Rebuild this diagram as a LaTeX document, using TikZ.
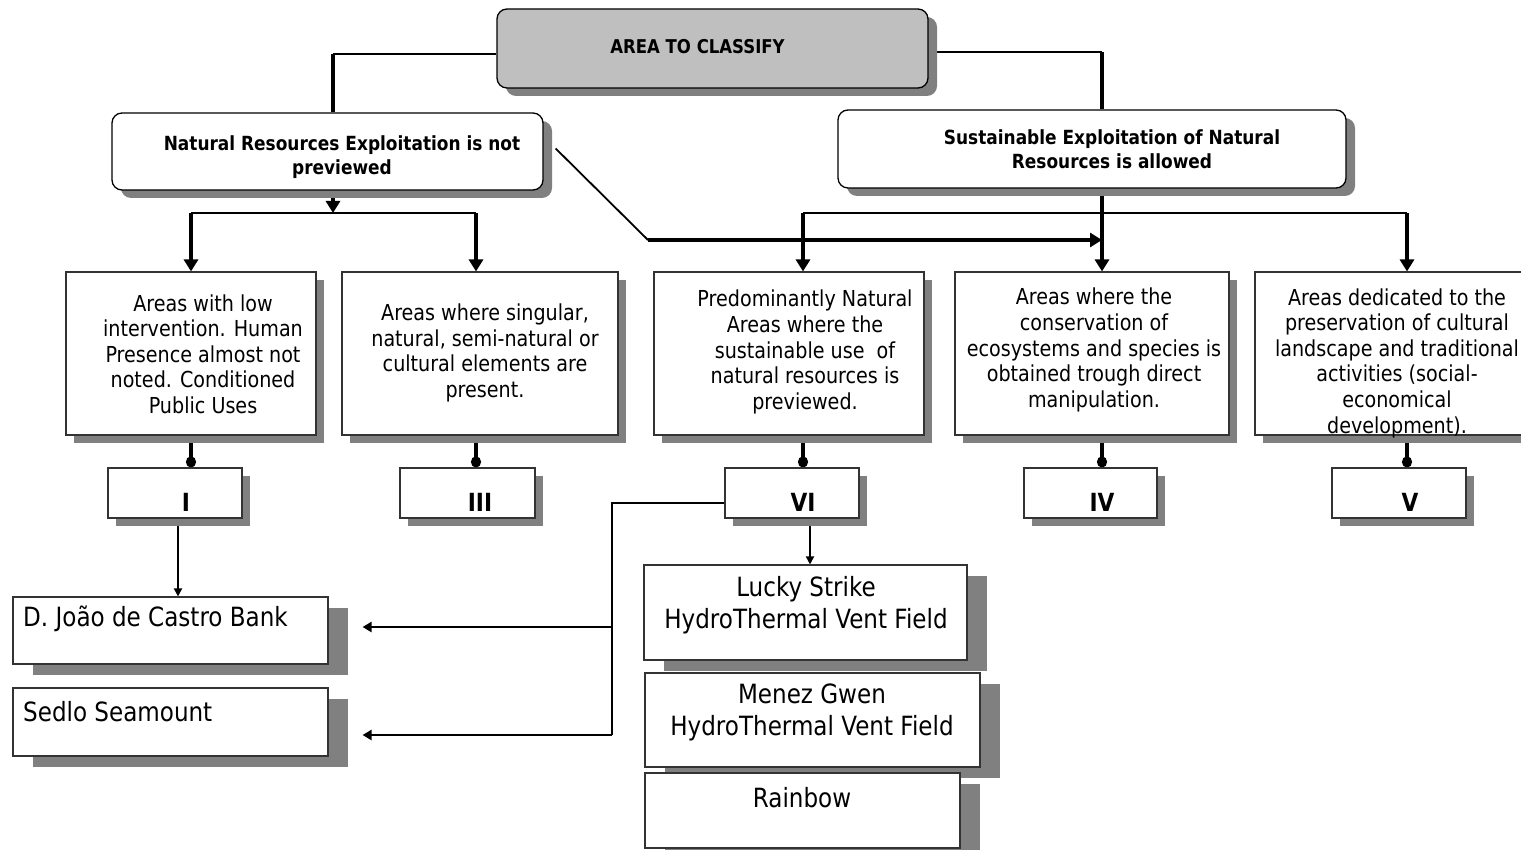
\documentclass[tikz,border=0pt]{standalone}
\usepackage{fontspec}
\setmainfont[FakeStretch=0.87]{DejaVu Sans}
\usetikzlibrary{arrows.meta,backgrounds,positioning,shadows}
\tikzset{
chart/.style={x=1pt,y=-1pt,>={Triangle[length=12pt,width=14pt]}},
shade box/.style={drop shadow={shadow xshift=#1,shadow yshift=-8pt,
    fill=black!50,opacity=1}},
shade box/.default={8pt},
choice/.style={draw=black,line width=1.3pt,rounded corners=10pt,fill=white,
    shade box=9pt},
area/.style={draw=black!80,line width=1.1pt,fill=white,shade box,
    minimum height=163},
category/.style={draw=black!80,line width=1.1pt,fill=white,shade box,
    minimum width=134,minimum height=50},
site/.style={draw=black!80,line width=1.1pt,fill=white,
    drop shadow={shadow xshift=20pt,shadow yshift=-11pt,fill=black!50,opacity=1}},
choice text/.style={font=\bfseries\fontsize{19.5}{24}\selectfont,
    align=center,inner sep=0pt},
area text/.style={font=\fontsize{22}{25.6}\selectfont,align=center,inner sep=0pt},
category text/.style={font=\bfseries\fontsize{25}{28}\selectfont,inner sep=0pt},
site text/.style={font=\fontsize{26.5}{32}\selectfont,align=center,inner sep=0pt},
link/.style={line width=3.4pt},
bar/.style={line width=2.4pt},
thin link/.style={line width=1.8pt,-{Triangle[length=8pt,width=8pt]}},
side link/.style={line width=2.8pt,-{Triangle[length=9pt,width=10pt]}},
ball/.style={line width=3.4pt,-{Circle[length=11pt,width=10pt]}},
}

\begin{document}
\begin{tikzpicture}[chart]
    \useasboundingbox (0,0) rectangle (1521,850);

    % root and the two options
    \node[choice,fill=black!25,minimum width=431,minimum height=79] (top) at (712.5,48.5) {};
    \node[choice text,font=\bfseries\fontsize{19}{23}\selectfont] (top text) at (697.5,47) {AREA TO CLASSIFY};
    \node[choice,minimum width=431,minimum height=77] (natural) at (327.5,151.5) {};
    \node[choice text] (natural text) at (342,157) {Natural Resources Exploitation is not\\previewed};
    \node[choice,minimum width=508,minimum height=78] (sustain) at (1092,149) {};
    \node[choice text] (sustain text) at (1112,149) {Sustainable Exploitation of Natural\\Resources is allowed};

    % area descriptions
    \node[area,minimum width=250] (a1) at (191,353.5) {};
    \node[area text] (a1 text) at (203,354) {Areas with low\\intervention. Human\\Presence almost not\\noted. Conditioned\\Public Uses};
    \node[area,minimum width=276] (a3) at (480,353.5) {};
    \node[area text] (a3 text) at (485,353) {Areas where singular,\\natural, semi-natural or\\cultural elements are\\present.};
    \node[area,minimum width=270] (a6) at (789,353.5) {};
    \node[area text] (a6 text) at (805,352) {Predominantly Natural\\Areas where the\\sustainable use\ \ of\\natural resources is\\previewed.};
    \node[area,minimum width=274] (a4) at (1092,353.5) {};
    \node[area text] (a4 text) at (1094,350) {Areas where the\\conservation of\\ecosystems and species is\\obtained trough direct\\manipulation.};
    \node[area,minimum width=276] (a5) at (1393,353.5) {};
    \node[area text] (a5 text) at (1397,363) {Areas dedicated to the\\preservation of cultural\\landscape and traditional\\activities (social-\\economical\\development).};

    % categories
    \node[category] (I) at (175,493) {};
    \node[category text] (I text) at (186,502) {I};
    \node[category,minimum width=135] (III) at (467.5,493) {};
    \node[category text] (III text) at (480,502) {III};
    \node[category] (VI) at (792,493) {};
    \node[category text] (VI text) at (803,502) {VI};
    \node[category,minimum width=133] (IV) at (1090.5,493) {};
    \node[category text] (IV text) at (1102,502) {IV};
    \node[category] (V) at (1399,493) {};
    \node[category text] (V text) at (1410,502) {V};

    % sites
    \node[site,minimum width=315,minimum height=67] (jcb) at (170.5,630.5) {};
    \node[site text,anchor=west] (jcb text) at (23,619) {D. João de Castro Bank};
    \node[site,minimum width=315,minimum height=68] (sedlo) at (170.5,722) {};
    \node[site text,anchor=west] (sedlo text) at (23,712) {Sedlo Seamount};
    \node[site,minimum width=323,minimum height=95] (lucky) at (805.5,612.5) {};
    \node[site text] (lucky text) at (806,605) {Lucky Strike\\HydroThermal Vent Field};
    \node[site,minimum width=335,minimum height=94] (menez) at (812.5,720) {};
    \node[site text] (menez text) at (812,712) {Menez Gwen\\HydroThermal Vent Field};
    \node[site,minimum width=315,minimum height=75] (rainbow) at (802.5,810.5) {};
    \node[site text] (rainbow text) at (802,798) {Rainbow};

    \coordinate (tl) at (333,54);
    \coordinate (tr) at (1102,52);
    \coordinate (nsplit) at (333,213);
    \coordinate (sjoin) at (1102,213);
    \coordinate (kink) at (648,240);
    \coordinate (vsplit) at (612,503);
    \coordinate (d1) at (a1.north);
    \coordinate (d3) at ([xshift=-4]a3.north);
    \coordinate (d6) at ([xshift=14]a6.north);
    \coordinate (d4) at ([xshift=10]a4.north);
    \coordinate (d5) at ([xshift=14]a5.north);
    \coordinate (i down) at ([xshift=3]I.south);
    \coordinate (vi out) at ([yshift=-10]VI.west);
    \coordinate (vi down) at ([xshift=18]VI.south);
    \coordinate (jcb in) at ([xshift=34,yshift=3.5]jcb.east);
    \coordinate (sedlo in) at ([xshift=34,yshift=-13]sedlo.east);

    \begin{pgfonlayer}{background}
    \draw[bar] (top.west |- tl) -- (tl);
    \draw[link] (tl) -- (tl |- natural.north);
    \draw[bar] (top.east |- tr) -- (tr);
    \draw[link] (tr) -- (tr |- sustain.north);

    \draw[link,->] (natural.south -| nsplit) -- (nsplit);
    \draw[bar] (d1 |- nsplit) -- (d3 |- nsplit);
    \draw[link,->] (d1 |- nsplit) -- (d1);
    \draw[link,->] (d3 |- nsplit) -- (d3);

    \draw[link,->] (sustain.south -| d4) -- (d4);
    \draw[bar] (d6 |- sjoin) -- (d5 |- sjoin);
    \draw[link,->] (d6 |- sjoin) -- (d6);
    \draw[link,->] (d5 |- sjoin) -- (d5);

    \draw[line width=1.8pt] ([xshift=12,yshift=3]natural.east) -- (kink);
    \draw[link,->] (kink) -- (kink -| d4);

    \draw[ball] (d1 |- a1.south) -- (d1 |- I.north);
    \draw[ball] (d3 |- a3.south) -- (d3 |- III.north);
    \draw[ball] (d6 |- a6.south) -- (d6 |- VI.north);
    \draw[ball] (d4 |- a4.south) -- (d4 |- IV.north);
    \draw[ball] (d5 |- a5.south) -- (d5 |- V.north);

    \draw[thin link] (i down) -- (i down |- jcb.north);
    \draw[line width=2.8pt] (vi out) -| (vsplit |- sedlo in);
    \draw[side link] (vsplit |- jcb in) -- (jcb in);
    \draw[side link] (vsplit |- sedlo in) -- (sedlo in);
    \draw[thin link] (vi down) -- (vi down |- lucky.north);
    \end{pgfonlayer}
\end{tikzpicture}
\end{document}
